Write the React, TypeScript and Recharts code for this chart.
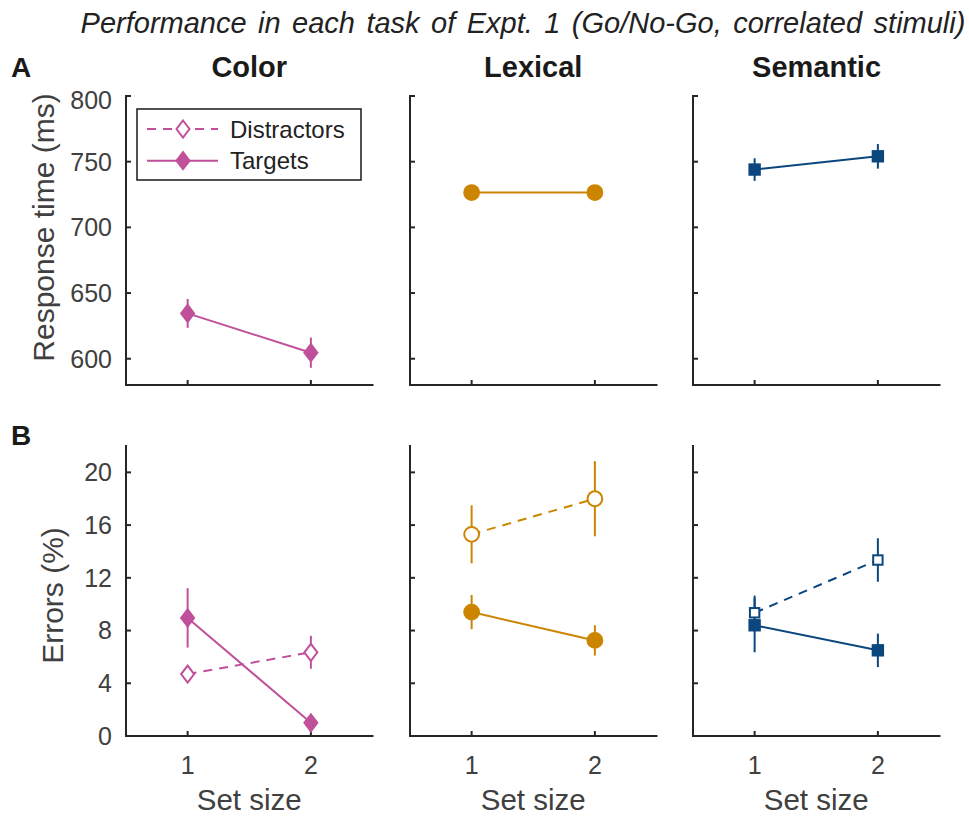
import React from 'react';
import { LineChart, Line, XAxis, YAxis, ErrorBar, Legend } from 'recharts';

// x values and labels
const SET_SIZES = [1, 2];
const TASKS = ['Color', 'Lexical', 'Semantic'];
const SERIES_NAMES = ['Distractors', 'Targets'];
const RT_TICKS = [600, 650, 700, 750, 800];
const ERR_TICKS = [0, 4, 8, 12, 16, 20];

// response time (ms), targets only (no response to distractors in go/no-go)
const RT_COLOR = [634.5, 604.6];
const RT_COLOR_SE = [11, 11.5];
const RT_LEXICAL = [726.5, 726.5];
const RT_LEXICAL_SE = [4, 4];
const RT_SEMANTIC = [744, 754.1];
const RT_SEMANTIC_SE = [8.6, 9.4];

// errors (%)
const ERR_COLOR_DIST = [4.7, 6.35];
const ERR_COLOR_DIST_SE = [0.5, 1.25];
const ERR_COLOR_TARG = [8.96, 1.0];
const ERR_COLOR_TARG_SE = [2.25, 0.4];
const ERR_LEXICAL_DIST = [15.3, 18.0];
const ERR_LEXICAL_DIST_SE = [2.2, 2.85];
const ERR_LEXICAL_TARG = [9.4, 7.25];
const ERR_LEXICAL_TARG_SE = [1.3, 1.15];
const ERR_SEMANTIC_DIST = [9.35, 13.35];
const ERR_SEMANTIC_DIST_SE = [1.3, 1.65];
const ERR_SEMANTIC_TARG = [8.4, 6.5];
const ERR_SEMANTIC_TARG_SE = [2.05, 1.27];

const RT = [RT_COLOR, RT_LEXICAL, RT_SEMANTIC];
const RT_SE = [RT_COLOR_SE, RT_LEXICAL_SE, RT_SEMANTIC_SE];
const ERR_DIST = [ERR_COLOR_DIST, ERR_LEXICAL_DIST, ERR_SEMANTIC_DIST];
const ERR_DIST_SE = [ERR_COLOR_DIST_SE, ERR_LEXICAL_DIST_SE, ERR_SEMANTIC_DIST_SE];
const ERR_TARG = [ERR_COLOR_TARG, ERR_LEXICAL_TARG, ERR_SEMANTIC_TARG];
const ERR_TARG_SE = [ERR_COLOR_TARG_SE, ERR_LEXICAL_TARG_SE, ERR_SEMANTIC_TARG_SE];

const COLORS = ['#c1509a', '#cc8500', '#0b477e'];
const SHAPES = ['diamond', 'circle', 'square'];

const FONT = '"Liberation Sans", Arial, Helvetica, sans-serif';
const AXIS = '#262626';
const GREY = '#404040';
const PLOT_X = [126, 410, 693.3];
const PLOT_W = 246.5;
const ROWS = [
  { top: 96, h: 289, xh: 20 },
  { top: 446, h: 290, xh: 81 },
];

function Marker({ cx, cy, shape, color, filled }: any) {
  if (cx == null || cy == null) return null;
  const fill = filled ? color : '#fff';
  if (shape === 'diamond') {
    return (
      <path
        d={`M${cx},${cy - 8.5} L${cx + 6.5},${cy} L${cx},${cy + 8.5} L${cx - 6.5},${cy} Z`}
        fill={fill}
        stroke={color}
        strokeWidth={2}
      />
    );
  }
  if (shape === 'circle') {
    return <circle cx={cx} cy={cy} r={7.4} fill={fill} stroke={color} strokeWidth={2} />;
  }
  const s = filled ? 5.2 : 4.7;
  return <rect x={cx - s} y={cy - s} width={s * 2} height={s * 2} fill={fill} stroke={color} strokeWidth={2} />;
}

function ColorLegend() {
  const color = COLORS[0];
  return (
    <svg width={227} height={74} style={{ display: 'block' }}>
      <rect x={1} y={1} width={224} height={71} fill="#fff" stroke={AXIS} strokeWidth={1.6} />
      {SERIES_NAMES.map((name, i) => {
        const y = 21 + i * 31.7;
        return (
          <g key={name}>
            <line x1={11} x2={82} y1={y} y2={y} stroke={color} strokeWidth={2} strokeDasharray={i === 0 ? '9 7' : undefined} />
            <Marker cx={47} cy={y} shape="diamond" color={color} filled={i === 1} />
            <text x={94} y={y + 8.5} fontSize={24} fill="#222" fontFamily={FONT}>
              {name}
            </text>
          </g>
        );
      })}
    </svg>
  );
}

function Panel({ col, row }: { col: number; row: number }) {
  const geo = ROWS[row];
  const color = COLORS[col];
  const shape = SHAPES[col];
  const yw = col === 0 ? PLOT_X[0] : 20;
  const left = PLOT_X[col] - yw;
  const mTop = 10;
  const width = yw + PLOT_W + 10;
  const height = mTop + geo.h + geo.xh;

  const data = SET_SIZES.map((x, i) =>
    row === 0
      ? { x, targ: RT[col][i], targSe: RT_SE[col][i] }
      : {
          x,
          dist: ERR_DIST[col][i],
          distSe: ERR_DIST_SE[col][i],
          targ: ERR_TARG[col][i],
          targSe: ERR_TARG_SE[col][i],
        }
  );

  const axisLine = { stroke: AXIS, strokeWidth: 2, strokeLinecap: 'square' as const };
  const tickLine = { stroke: AXIS, strokeWidth: 2 };
  const tickStyle = { fontSize: 25, fill: GREY, fontFamily: FONT };

  const yLabel = (text: string, cy: number, bx: number) => () =>
    (
      <text
        x={bx}
        y={cy}
        transform={`rotate(-90 ${bx} ${cy})`}
        textAnchor="middle"
        fontSize={30}
        fill={GREY}
        fontFamily={FONT}
      >
        {text}
      </text>
    );

  return (
    <div style={{ position: 'absolute', left, top: geo.top - mTop }}>
      <LineChart width={width} height={height} data={data} margin={{ top: mTop, right: 10, bottom: 0, left: 0 }}>
        <XAxis
          type="number"
          dataKey="x"
          domain={[0.5, 2.5]}
          ticks={SET_SIZES}
          height={geo.xh}
          axisLine={axisLine}
          tickLine={tickLine}
          tickSize={-5}
          tickMargin={25}
          tick={tickStyle}
          tickFormatter={(v) => (row === 1 ? String(v) : '')}
          allowDataOverflow
          label={
            row === 1
              ? {
                  content: () => (
                    <text x={yw + PLOT_W / 2} y={height - 7} textAnchor="middle" fontSize={29.5} fill={GREY} fontFamily={FONT}>
                      Set size
                    </text>
                  ),
                }
              : undefined
          }
        />
        <YAxis
          type="number"
          domain={row === 0 ? [580, 800] : [0, 22]}
          ticks={row === 0 ? RT_TICKS : ERR_TICKS}
          width={yw}
          axisLine={axisLine}
          tickLine={tickLine}
          tickSize={-5}
          tickMargin={19}
          tick={tickStyle}
          tickFormatter={(v) => (col === 0 ? String(v) : '')}
          allowDataOverflow
          label={
            col === 0
              ? { content: row === 0 ? yLabel('Response time (ms)', 141.5, 54) : yLabel('Errors (%)', 159.5, 62.5) }
              : undefined
          }
        />
        {row === 1 && (
          <Line
            dataKey="dist"
            stroke={color}
            strokeWidth={2}
            strokeDasharray="9 7"
            isAnimationActive={false}
            dot={(p: any) => <Marker key={`d-${p.index}`} cx={p.cx} cy={p.cy} shape={shape} color={color} filled={false} />}
            activeDot={false}
          >
            <ErrorBar dataKey="distSe" direction="y" width={0} stroke={color} strokeWidth={2} />
          </Line>
        )}
        <Line
          dataKey="targ"
          stroke={color}
          strokeWidth={2}
          isAnimationActive={false}
          dot={(p: any) => <Marker key={`t-${p.index}`} cx={p.cx} cy={p.cy} shape={shape} color={color} filled />}
          activeDot={false}
        >
          <ErrorBar dataKey="targSe" direction="y" width={0} stroke={color} strokeWidth={2} />
        </Line>
        {row === 0 && col === 0 && (
          <Legend
            layout="horizontal"
            verticalAlign="middle"
            align="center"
            content={() => <ColorLegend />}
            wrapperStyle={{ left: 136, top: 22, width: 227, height: 74 }}
          />
        )}
      </LineChart>
    </div>
  );
}

export default function App() {
  return (
    <div style={{ position: 'absolute', left: 0, top: 0, width: 969, height: 817, background: '#fff', fontFamily: FONT }}>
      <svg width={969} height={817} style={{ position: 'absolute', left: 0, top: 0 }}>
        <text
          x={523}
          y={33}
          textAnchor="middle"
          fontStyle="italic"
          fontSize={29}
          wordSpacing={3.4}
          fill="#222"
          fontFamily={FONT}
        >
          Performance in each task of Expt. 1 (Go/No-Go, correlated stimuli)
        </text>
        {TASKS.map((t, i) => (
          <text key={t} x={PLOT_X[i] + PLOT_W / 2} y={77} textAnchor="middle" fontWeight="bold" fontSize={29} fill="#1a1a1a" fontFamily={FONT}>
            {t}
          </text>
        ))}
        <text x={11} y={77} fontWeight="bold" fontSize={28} fill="#1a1a1a" fontFamily={FONT}>
          A
        </text>
        <text x={11} y={445} fontWeight="bold" fontSize={28} fill="#1a1a1a" fontFamily={FONT}>
          B
        </text>
      </svg>
      {[0, 1].map((row) => [0, 1, 2].map((col) => <Panel key={`${row}-${col}`} col={col} row={row} />))}
    </div>
  );
}
